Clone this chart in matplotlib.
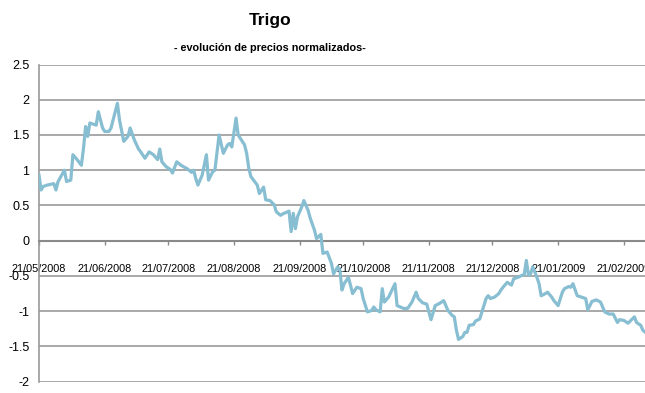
import datetime as dt
import matplotlib
matplotlib.use("Agg")
import matplotlib.pyplot as plt
import matplotlib.dates as mdates
from matplotlib import font_manager

# normalized wheat price, days counted from 21/05/2008
start = dt.date(2008, 5, 21)
day_offsets = [
    0, 1, 2, 4, 7, 8, 9, 12, 13, 15, 16, 18, 20, 21, 22, 23, 24, 26, 27, 28,
    30, 31, 33, 34, 37, 38, 40, 42, 43, 45, 47, 48, 50, 52, 54, 56, 57, 58, 60, 62,
    63, 65, 67, 70, 72, 73, 74, 75, 77, 79, 80, 82, 83, 85, 87, 89, 90, 91, 93, 94,
    97, 98, 99, 100, 103, 104, 106, 107, 109, 111, 112, 114, 115, 118, 119, 120, 121, 122, 124, 125,
    127, 128, 130, 131, 133, 134, 136, 138, 139, 141, 142, 143, 144, 146, 147, 148, 150, 152, 153, 155,
    157, 158, 159, 161, 162, 163, 165, 168, 169, 172, 174, 176, 178, 179, 181, 183, 185, 187, 189, 191,
    193, 195, 196, 197, 198, 200, 201, 202, 203, 205, 206, 208, 211, 212, 213, 215, 217, 218, 219, 221,
    222, 223, 224, 226, 228, 229, 230, 231, 232, 233, 235, 236, 237, 239, 240, 242, 243, 245, 247, 248,
    250, 251, 252, 254, 256, 258, 259, 261, 263, 265, 267, 269, 271, 273, 274, 276, 278, 281, 282, 284,
    285, 287,
]
prices = [
    0.93, 0.72, 0.77, 0.79, 0.81, 0.72, 0.84, 1.00, 0.84, 0.86, 1.22, 1.15, 1.07, 1.31, 1.62, 1.48, 1.67, 1.65, 1.64, 1.83,
    1.60, 1.55, 1.55, 1.60, 1.95, 1.71, 1.41, 1.48, 1.60, 1.43, 1.30, 1.26, 1.17, 1.26, 1.22, 1.15, 1.30, 1.12, 1.05, 1.01,
    0.96, 1.12, 1.07, 1.02, 0.97, 1.00, 0.88, 0.79, 0.93, 1.22, 0.86, 0.98, 1.00, 1.50, 1.24, 1.36, 1.38, 1.33, 1.74, 1.50,
    1.36, 1.24, 1.03, 0.91, 0.79, 0.67, 0.76, 0.58, 0.57, 0.51, 0.41, 0.36, 0.38, 0.42, 0.13, 0.39, 0.17, 0.34, 0.48, 0.57,
    0.43, 0.32, 0.15, 0.03, 0.09, -0.18, -0.16, -0.32, -0.47, -0.37, -0.42, -0.70, -0.61, -0.52, -0.63, -0.75, -0.66, -0.68, -0.82, -1.01,
    -0.99, -0.94, -0.98, -1.01, -0.68, -0.87, -0.80, -0.61, -0.92, -0.96, -0.96, -0.87, -0.73, -0.82, -0.88, -0.90, -1.12, -0.92, -0.89, -0.85,
    -0.99, -1.06, -1.08, -1.27, -1.40, -1.36, -1.30, -1.30, -1.20, -1.19, -1.14, -1.11, -0.82, -0.78, -0.82, -0.80, -0.75, -0.70, -0.66, -0.59,
    -0.61, -0.63, -0.54, -0.52, -0.49, -0.48, -0.28, -0.49, -0.47, -0.37, -0.52, -0.61, -0.78, -0.75, -0.73, -0.80, -0.85, -0.92, -0.73, -0.68,
    -0.65, -0.66, -0.61, -0.78, -0.80, -0.82, -0.98, -0.86, -0.84, -0.87, -1.01, -1.04, -1.04, -1.16, -1.12, -1.13, -1.17, -1.08, -1.16, -1.20,
    -1.27, -1.32,
]
y_ticks = [-2, -1.5, -1, -0.5, 0, 0.5, 1, 1.5, 2, 2.5]
month_ticks = [dt.date(2008 + (4 + i) // 12, (4 + i) % 12 + 1, 21) for i in range(10)]

names = {f.name for f in font_manager.fontManager.ttflist}
narrow = [f for f in ["Liberation Sans Narrow", "Liberation Sans", "DejaVu Sans"] if f in names]
plt.rcParams["font.family"] = narrow

dates = [start + dt.timedelta(days=d) for d in day_offsets]

fig = plt.figure(figsize=(6.45, 3.93), dpi=100)
ax = fig.add_axes([39 / 645, 1 - 381.7 / 393, 606 / 645, (381.7 - 64.5) / 393])

ax.plot(dates, prices, color="#87bed2", lw=2.3, solid_joinstyle="round", zorder=3)

ax.set_ylim(-2, 2.5)
ax.set_yticks(y_ticks)
ax.set_yticklabels([f"{v:g}" for v in y_ticks])
ax.set_xlim(start, start + dt.timedelta(days=286.8))
ax.set_xticks(month_ticks)
ax.xaxis.set_major_formatter(mdates.DateFormatter("%d/%m/%Y"))

ax.grid(axis="y", color="#9a9a9a", lw=1.2)
ax.set_axisbelow(True)
for s in ["top", "right"]:
    ax.spines[s].set_visible(False)
ax.spines["left"].set_color("#9a9a9a")
ax.spines["left"].set_linewidth(1.2)
ax.spines["bottom"].set_position(("data", 0))
ax.spines["bottom"].set_color("#8a8a8a")
ax.spines["bottom"].set_linewidth(1.5)

ax.tick_params(axis="y", length=0, pad=7, labelsize=9, labelcolor="black")
ax.tick_params(axis="x", length=3, width=1, color="#8a8a8a", pad=14, labelsize=7.8, labelcolor="black")

fig.text(0.419, 1 - 20 / 393, "Trigo", ha="center", va="center", fontsize=12.5, fontweight="bold")
fig.text(0.419, 1 - 48 / 393, "- evolución de precios normalizados-", ha="center", va="center",
         fontsize=7.8, fontweight="bold")

fig.savefig("out.png", dpi=100)
